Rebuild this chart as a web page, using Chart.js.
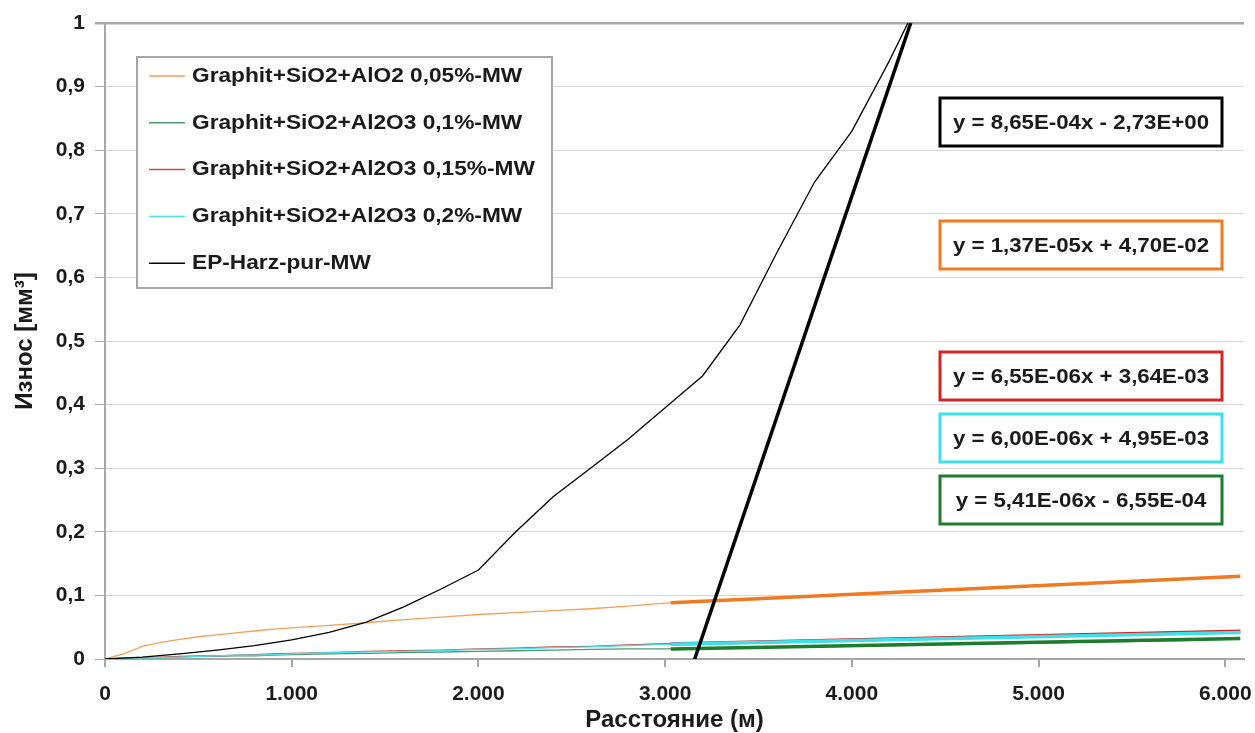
<!DOCTYPE html>
<html>
<head>
<meta charset="utf-8">
<title>Износ</title>
<script src="https://cdn.jsdelivr.net/npm/chart.js@4.4.1/dist/chart.umd.min.js"></script>
<style>
  html, body { margin: 0; padding: 0; background: #fff; }
  #wrap { width: 1255px; height: 733px; }
</style>
</head>
<body>
<div id="wrap"><canvas id="chart" width="1255" height="733"></canvas></div>
<script>
// measured curves, distance in m, wear in mm3
const distMain = [0, 100, 200, 300, 400, 500, 600, 700, 800, 900, 1000, 1200, 1400, 1600, 1800, 2000,
    2200, 2400, 2600, 2800, 3000, 3200, 3400, 3600, 3800, 4000, 4200, 4400, 4600, 4800, 5000,
    5200, 5400, 5600, 5800, 6000, 6080];
const wearOrange = [0, 0.008, 0.02, 0.026, 0.031, 0.035, 0.038, 0.041, 0.044, 0.047, 0.049, 0.053, 0.057, 0.062, 0.066, 0.070,
    0.073, 0.076, 0.079, 0.083, 0.088, 0.091, 0.094, 0.096, 0.099, 0.102, 0.104, 0.107, 0.110, 0.113, 0.116,
    0.118, 0.121, 0.123, 0.126, 0.128, 0.129];
const wearGreen = [0, 0.001, 0.002, 0.002, 0.003, 0.004, 0.004, 0.005, 0.005, 0.006, 0.007, 0.008, 0.009, 0.010, 0.011, 0.012,
    0.013, 0.014, 0.015, 0.016, 0.016, 0.017, 0.018, 0.018, 0.019, 0.020, 0.021, 0.022, 0.023, 0.024, 0.025,
    0.026, 0.027, 0.028, 0.029, 0.031, 0.032];
const wearRed = [0, 0.001, 0.002, 0.003, 0.004, 0.005, 0.005, 0.006, 0.007, 0.008, 0.009, 0.010, 0.012, 0.013, 0.014, 0.016,
    0.017, 0.019, 0.020, 0.022, 0.024, 0.025, 0.026, 0.027, 0.028, 0.030, 0.031, 0.032, 0.033, 0.034, 0.036,
    0.037, 0.038, 0.040, 0.041, 0.043, 0.044];
const wearCyan = [0, 0.001, 0.002, 0.002, 0.003, 0.004, 0.005, 0.006, 0.006, 0.007, 0.008, 0.010, 0.011, 0.012, 0.013, 0.015,
    0.016, 0.018, 0.019, 0.021, 0.023, 0.024, 0.025, 0.026, 0.028, 0.029, 0.030, 0.031, 0.032, 0.034, 0.035,
    0.036, 0.037, 0.038, 0.040, 0.041, 0.042];
const distBlack = [0, 200, 400, 600, 800, 1000, 1200, 1400, 1600, 1800, 2000, 2200, 2400, 2600, 2800, 3000,
    3200, 3400, 3600, 3800, 4000, 4200, 4300, 4350];
const wearBlack = [0, 0.003, 0.008, 0.014, 0.021, 0.030, 0.042, 0.058, 0.082, 0.110, 0.140, 0.200, 0.255, 0.300, 0.345, 0.395,
    0.445, 0.525, 0.640, 0.750, 0.830, 0.940, 1.0, 1.03];

// linear trend lines (end points)
const trendDist = [3030, 6080];
const trendOrange = [0.0885, 0.130];
const trendRed = [0.0235, 0.0435];
const trendCyan = [0.0230, 0.0415];
const trendGreen = [0.0158, 0.0323];
const trendBlackDist = [3158, 4315];
const trendBlack = [0, 1];

const seriesLabels = ['Graphit+SiO2+AlO2 0,05%-MW', 'Graphit+SiO2+Al2O3 0,1%-MW',
    'Graphit+SiO2+Al2O3 0,15%-MW', 'Graphit+SiO2+Al2O3 0,2%-MW', 'EP-Harz-pur-MW'];
const seriesColors = ['#f3a25c', '#4f9a72', '#c0504d', '#4fe0e4', '#000000'];
const equations = ['y = 8,65E-04x - 2,73E+00', 'y = 1,37E-05x + 4,70E-02', 'y = 6,55E-06x + 3,64E-03',
    'y = 6,00E-06x + 4,95E-03', 'y = 5,41E-06x - 6,55E-04'];
const equationColors = ['#000000', '#f07a22', '#d42424', '#3ee0ea', '#1e7d2c'];
const yTicks = [0, 0.1, 0.2, 0.3, 0.4, 0.5, 0.6, 0.7, 0.8, 0.9, 1];
const xTicks = [0, 1000, 2000, 3000, 4000, 5000, 6000];

const FONT = 'Liberation Sans, Arial, sans-serif';

function pts(xs, ys) {
    return xs.map((x, i) => ({ x: x, y: ys[i] }));
}

function thin(label, xs, ys, color) {
    return { label: label, data: pts(xs, ys), borderColor: color, borderWidth: 1.3, pointRadius: 0, tension: 0, order: 5 };
}
function thick(xs, ys, color, order) {
    return { label: 'trend', data: pts(xs, ys), borderColor: color, borderWidth: 3.5, pointRadius: 0, order: order };
}

// legend box and equation boxes drawn inside the plot
const boxesPlugin = {
    id: 'boxes',
    afterDatasetsDraw(chart) {
        const ctx = chart.ctx;
        const a = chart.chartArea;
        ctx.save();
        // legend
        const lx = a.left + 32, ly = a.top + 34, lw = 415, lh = 231;
        ctx.fillStyle = '#fff';
        ctx.fillRect(lx, ly, lw, lh);
        ctx.strokeStyle = '#a6a6a6';
        ctx.lineWidth = 2;
        ctx.strokeRect(lx, ly, lw, lh);
        ctx.font = 'bold 21px ' + FONT;
        ctx.textBaseline = 'middle';
        seriesLabels.forEach((lab, i) => {
            const y = ly + 19 + i * 46.8;
            ctx.strokeStyle = seriesColors[i];
            ctx.lineWidth = 1.5;
            ctx.beginPath();
            ctx.moveTo(lx + 12, y);
            ctx.lineTo(lx + 48, y);
            ctx.stroke();
            ctx.fillStyle = '#1a1a1a';
            ctx.save();
            ctx.translate(lx + 55, y);
            ctx.scale(1.08, 1);
            ctx.fillText(lab, 0, 0);
            ctx.restore();
        });
        // trend equations
        const boxTops = [75, 198, 329, 391, 453];
        const bw = 282, bh = 48;
        const bx = a.right - 22 - bw;
        equations.forEach((eq, i) => {
            const by = a.top + boxTops[i];
            ctx.fillStyle = '#fff';
            ctx.fillRect(bx, by, bw, bh);
            ctx.strokeStyle = equationColors[i];
            ctx.lineWidth = 3;
            ctx.strokeRect(bx, by, bw, bh);
            ctx.fillStyle = '#1a1a1a';
            ctx.textAlign = 'center';
            ctx.save();
            ctx.translate(bx + bw / 2, by + bh / 2 + 1);
            ctx.scale(1.06, 1);
            ctx.fillText(eq, 0, 0);
            ctx.restore();
        });
        ctx.restore();
    }
};

const ctx = document.getElementById('chart').getContext('2d');
new Chart(ctx, {
    type: 'line',
    data: {
        datasets: [
            thick(trendBlackDist, trendBlack, '#000000', 0),
            thick(trendDist, trendCyan, '#3ee0ea', 1),
            thick(trendDist, trendRed, '#d42424', 2),
            thick(trendDist, trendGreen, '#1e7d2c', 3),
            thick(trendDist, trendOrange, '#f07a22', 4),
            thin(seriesLabels[4], distBlack, wearBlack, seriesColors[4]),
            thin(seriesLabels[0], distMain, wearOrange, seriesColors[0]),
            thin(seriesLabels[3], distMain, wearCyan, seriesColors[3]),
            thin(seriesLabels[2], distMain, wearRed, seriesColors[2]),
            thin(seriesLabels[1], distMain, wearGreen, seriesColors[1])
        ]
    },
    options: {
        responsive: false,
        animation: false,
        devicePixelRatio: 1,
        layout: { padding: { top: 23, right: 11, left: 0, bottom: 0 } },
        plugins: {
            legend: { display: false },
            tooltip: { enabled: false }
        },
        scales: {
            x: {
                type: 'linear',
                min: 0,
                max: 6100,
                afterBuildTicks: (scale) => { scale.ticks = xTicks.map(v => ({ value: v })); },
                afterFit: (scale) => { scale.height = 74; scale.paddingRight = 0; scale.paddingLeft = 0; },
                border: { color: '#a8a8a8', width: 2 },
                grid: { drawOnChartArea: false, tickLength: 8, color: '#a8a8a8', lineWidth: 2 },
                ticks: {
                    padding: 15,
                    maxRotation: 0,
                    color: '#1a1a1a',
                    font: { family: FONT, size: 21, weight: 'bold' },
                    callback: (v) => v === 0 ? '0' : (v / 1000).toFixed(0) + '.000'
                },
                title: {
                    display: true,
                    text: 'Расстояние (м)',
                    color: '#1a1a1a',
                    font: { family: FONT, size: 24, weight: 'bold', lineHeight: 1 },
                    padding: { top: 0, bottom: 1 }
                }
            },
            y: {
                min: 0,
                max: 1,
                afterBuildTicks: (scale) => { scale.ticks = yTicks.map(v => ({ value: v })); },
                afterFit: (scale) => { scale.width = 105; },
                border: { color: '#a8a8a8', width: 2 },
                grid: {
                    tickLength: 10,
                    color: (c) => c.tick && c.tick.value === 1 ? '#a8a8a8' : '#d6d6d6',
                    lineWidth: (c) => c.tick && c.tick.value === 1 ? 2.5 : 1,
                    tickColor: '#a8a8a8'
                },
                ticks: {
                    padding: 10,
                    color: '#1a1a1a',
                    font: { family: FONT, size: 21, weight: 'bold' },
                    callback: (v) => v === 0 ? '0' : (v === 1 ? '1' : v.toFixed(1).replace('.', ','))
                },
                title: {
                    display: true,
                    text: 'Износ [мм³]',
                    color: '#1a1a1a',
                    font: { family: FONT, size: 24, weight: 'bold', lineHeight: 1 },
                    padding: { top: 13, bottom: 0 }
                }
            }
        }
    },
    plugins: [boxesPlugin]
});
</script>
</body>
</html>
